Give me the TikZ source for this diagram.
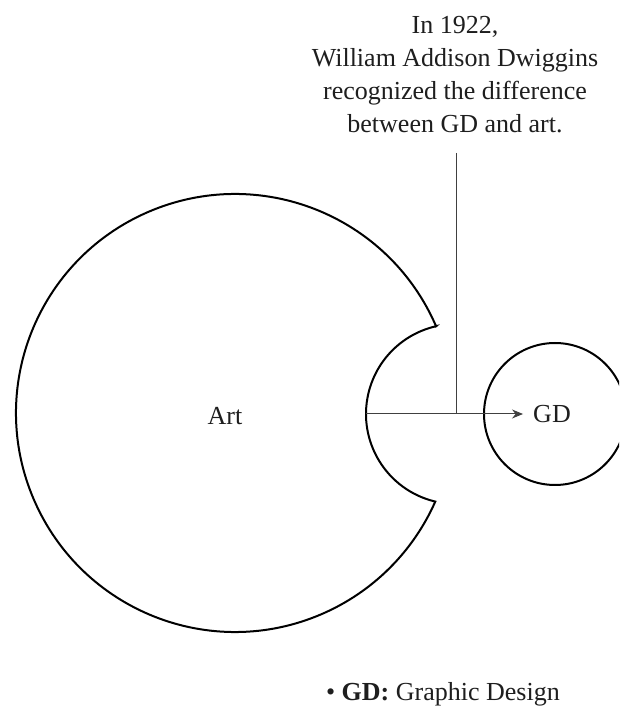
\documentclass[tikz,border=0pt]{standalone}
\usepackage{fontspec}
\setmainfont{Liberation Serif}
\usetikzlibrary{arrows.meta,positioning}
\definecolor{ink}{HTML}{1E1E1E}
\tikzset{
  labeltext/.style={font=\fontsize{26}{33}\selectfont,text=ink,inner sep=0pt},
  blob/.style={draw=black,line width=2pt},
  guide/.style={draw=ink!85,line width=1pt},
  arr/.style={guide,-{Stealth[length=11pt,width=9pt]}}
}

\begin{document}
\begin{tikzpicture}[x=1pt,y=1pt]
\clip (0,0) rectangle (619,709);
% art circle with the bite taken out
\coordinate (artc) at (235,296);
\coordinate (joint) at (456,295);
\coordinate (bite) at (366,295);
\draw[blob] (artc) ++(23.34:219) arc[start angle=23.34,end angle=336.14,radius=219]
  arc[start angle=256.69,end angle=102.79,radius=90] -- cycle;
\node[labeltext] (art) at (225,293) {Art};
\node[circle,blob,minimum size=142pt,inner sep=0pt] (gdring) at (555,295) {};
\node[labeltext,inner xsep=10pt] (gd) at (552,295) {GD};
\node[labeltext,align=center,anchor=north] (note) at (455,693) {In 1922,\\William Addison Dwiggins\\recognized the difference\\between GD and art.};
\node[labeltext,anchor=base east] (key) at (560,9) {\textbullet\ \textbf{GD:} Graphic Design};
\draw[guide,shorten <=20pt] (note.south -| joint) -- (joint);
\draw[arr] (bite) -- (gd.west);
\end{tikzpicture}
\end{document}
